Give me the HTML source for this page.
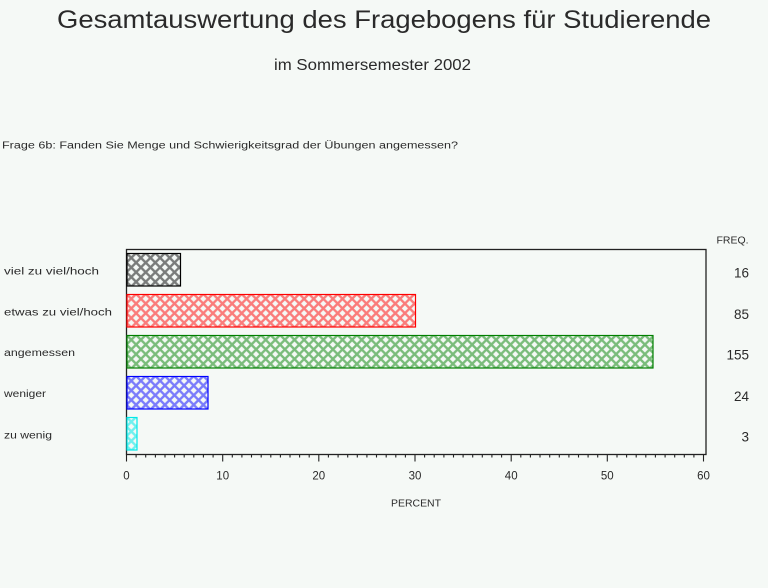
<!DOCTYPE html>
<html>
<head>
<meta charset="utf-8">
<style>
  html,body{margin:0;padding:0;background:#f5f9f6;}
  svg{display:block;}
  text{font-family:"Liberation Sans",sans-serif;fill:#2a2a2a;}
</style>
</head>
<body>
<svg width="768" height="588" viewBox="0 0 768 588" xmlns="http://www.w3.org/2000/svg">
  <defs>
    <pattern id="pk" width="9.6" height="9.6" patternUnits="userSpaceOnUse" x="126.5" y="253">
      <path d="M-1,-1 L10.6,10.6 M10.6,-1 L-1,10.6" stroke="#000" stroke-opacity="0.5" stroke-width="2.4" fill="none"/>
    </pattern>
    <pattern id="pr" width="9.6" height="9.6" patternUnits="userSpaceOnUse" x="126.5" y="294">
      <path d="M-1,-1 L10.6,10.6 M10.6,-1 L-1,10.6" stroke="#ff0000" stroke-opacity="0.5" stroke-width="2.4" fill="none"/>
    </pattern>
    <pattern id="pg" width="9.6" height="9.6" patternUnits="userSpaceOnUse" x="126.5" y="335">
      <path d="M-1,-1 L10.6,10.6 M10.6,-1 L-1,10.6" stroke="#008000" stroke-opacity="0.5" stroke-width="2.4" fill="none"/>
    </pattern>
    <pattern id="pb" width="9.6" height="9.6" patternUnits="userSpaceOnUse" x="126.5" y="376">
      <path d="M-1,-1 L10.6,10.6 M10.6,-1 L-1,10.6" stroke="#0000ff" stroke-opacity="0.5" stroke-width="2.4" fill="none"/>
    </pattern>
    <pattern id="pc" width="9.6" height="9.6" patternUnits="userSpaceOnUse" x="126.5" y="417">
      <path d="M-1,-1 L10.6,10.6 M10.6,-1 L-1,10.6" stroke="#00e8e8" stroke-opacity="0.55" stroke-width="2.4" fill="none"/>
    </pattern>
  </defs>

  <!-- Titles -->
  <text x="57" y="28" font-size="25" textLength="654" lengthAdjust="spacingAndGlyphs">Gesamtauswertung des Fragebogens für Studierende</text>
  <text x="274" y="70" font-size="15.5" textLength="197" lengthAdjust="spacingAndGlyphs">im Sommersemester 2002</text>
  <text x="2" y="148.5" font-size="10" textLength="456" lengthAdjust="spacingAndGlyphs">Frage 6b: Fanden Sie Menge und Schwierigkeitsgrad der Übungen angemessen?</text>

  <!-- Frame -->
  <rect x="126.5" y="249.5" width="579.5" height="205" fill="none" stroke="#222" stroke-width="1.3"/>

  <!-- Bars -->
  <rect x="127" y="253.5" width="53.5" height="32.5" fill="url(#pk)" stroke="#000" stroke-width="1.2"/>
  <rect x="127" y="294.5" width="288.5" height="32.5" fill="url(#pr)" stroke="#ff0000" stroke-width="1.2"/>
  <rect x="127" y="335.5" width="526" height="32.5" fill="url(#pg)" stroke="#008000" stroke-width="1.2"/>
  <rect x="127" y="376.5" width="81" height="32.5" fill="url(#pb)" stroke="#0000ff" stroke-width="1.2"/>
  <rect x="127" y="417.5" width="10" height="32.5" fill="url(#pc)" stroke="#00e8e8" stroke-width="1.2"/>

  <!-- Category labels -->
  <text x="4" y="274.5" font-size="10" textLength="95" lengthAdjust="spacingAndGlyphs">viel zu viel/hoch</text>
  <text x="4" y="315.5" font-size="10" textLength="108" lengthAdjust="spacingAndGlyphs">etwas zu viel/hoch</text>
  <text x="4" y="356" font-size="10" textLength="71" lengthAdjust="spacingAndGlyphs">angemessen</text>
  <text x="4" y="397" font-size="10" textLength="42" lengthAdjust="spacingAndGlyphs">weniger</text>
  <text x="4" y="438.5" font-size="10" textLength="48" lengthAdjust="spacingAndGlyphs">zu wenig</text>

  <!-- Frequencies -->
  <text x="716.5" y="243.5" font-size="10" textLength="32" lengthAdjust="spacingAndGlyphs">FREQ.</text>
  <g font-size="13.5" text-anchor="end">
    <text x="749" y="277.5">16</text>
    <text x="749" y="319">85</text>
    <text x="749" y="359.5">155</text>
    <text x="749" y="401">24</text>
    <text x="749" y="441.5">3</text>
  </g>

  <!-- Ticks -->
  <g stroke="#222" stroke-width="1.1">
    <path d="M126.5,454.5 v7 M222.7,454.5 v7 M318.8,454.5 v7 M415,454.5 v7 M511.2,454.5 v7 M607.3,454.5 v7 M703.5,454.5 v7"/>
    <path d="
      M136.1,454.5v3 M145.7,454.5v3 M155.4,454.5v3 M165,454.5v3 M174.6,454.5v3 M184.2,454.5v3 M193.8,454.5v3 M203.4,454.5v3 M213.1,454.5v3
      M232.3,454.5v3 M241.9,454.5v3 M251.5,454.5v3 M261.2,454.5v3 M270.8,454.5v3 M280.4,454.5v3 M290,454.5v3 M299.6,454.5v3 M309.2,454.5v3
      M328.4,454.5v3 M338.1,454.5v3 M347.7,454.5v3 M357.3,454.5v3 M366.9,454.5v3 M376.5,454.5v3 M386.2,454.5v3 M395.8,454.5v3 M405.4,454.5v3
      M424.6,454.5v3 M434.2,454.5v3 M443.9,454.5v3 M453.5,454.5v3 M463.1,454.5v3 M472.7,454.5v3 M482.3,454.5v3 M491.9,454.5v3 M501.6,454.5v3
      M520.8,454.5v3 M530.4,454.5v3 M540,454.5v3 M549.7,454.5v3 M559.3,454.5v3 M568.9,454.5v3 M578.5,454.5v3 M588.1,454.5v3 M597.7,454.5v3
      M617,454.5v3 M626.6,454.5v3 M636.2,454.5v3 M645.8,454.5v3 M655.4,454.5v3 M665.1,454.5v3 M674.7,454.5v3 M684.3,454.5v3 M693.9,454.5v3"/>
  </g>

  <!-- Tick labels -->
  <g font-size="11.5" text-anchor="middle">
    <text x="126.5" y="479.5">0</text>
    <text x="222.7" y="479.5">10</text>
    <text x="318.8" y="479.5">20</text>
    <text x="415" y="479.5">30</text>
    <text x="511.2" y="479.5">40</text>
    <text x="607.3" y="479.5">50</text>
    <text x="703.5" y="479.5">60</text>
  </g>
  <text x="391" y="506.5" font-size="10" textLength="50" lengthAdjust="spacingAndGlyphs">PERCENT</text>
</svg>
</body>
</html>
